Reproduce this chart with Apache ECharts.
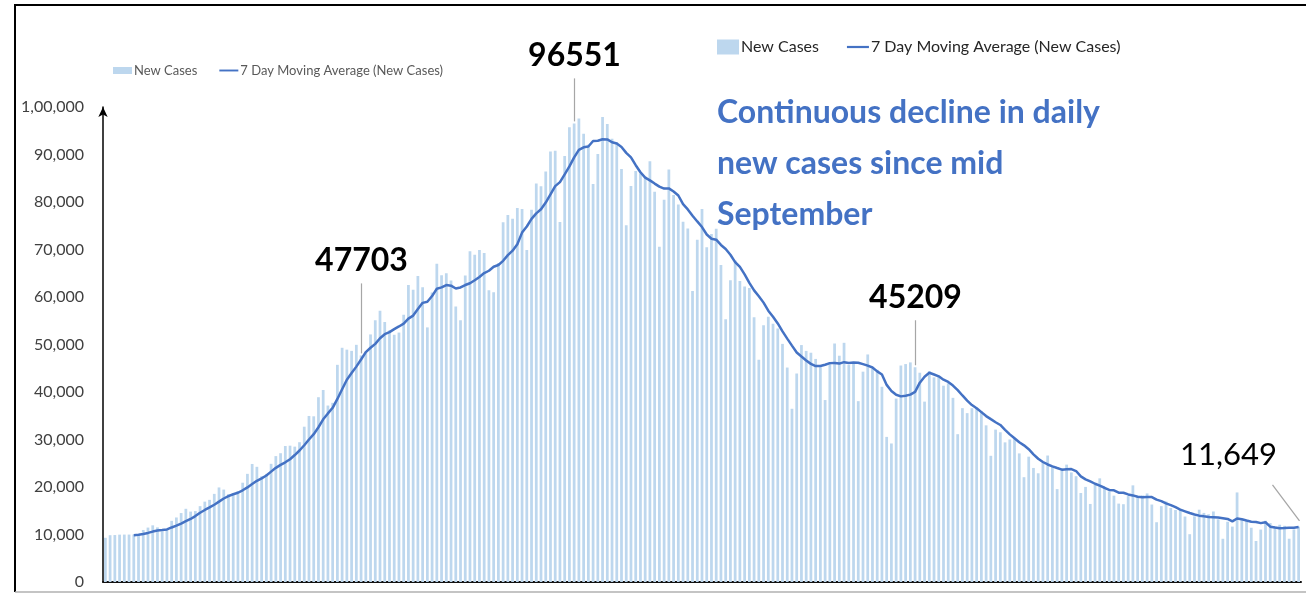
<!DOCTYPE html>
<html>
<head>
<meta charset="utf-8">
<script src="https://cdn.jsdelivr.net/npm/echarts@6/dist/echarts.min.js"></script>
<style>
  html, body { margin: 0; padding: 0; background: #fff; }
  #chart { width: 1306px; height: 594px; }
</style>
</head>
<body>
<div id="chart"></div>
<script>
// daily new cases, 04 Jun 2020 -> 11 Feb 2021
const firstDay = '2020-06-04'
const newCases = [
  9304, 9851, 9887, 9971, 9983, 9987, 9985, 9996, 10956, 11458, 11929, 11502, 10667, 10974, 12881, 13586, 14516, 15413, 14821, 14933, 15968, 16922, 17296, 18552, 19906, 19459, 18522,
  18653, 19148, 20903, 22771, 24850, 24248, 22252, 22752, 24879, 26506, 27114, 28637, 28701, 28498, 29429, 32695, 34956, 34884, 38902, 40425, 37148, 37724, 45720, 49310, 48916, 48661, 49931, 47703, 48513, 52123, 55079,
  57118, 54735, 52972, 52050, 52509, 56282, 62538, 61537, 64399, 62064, 53601, 60963, 66999, 64553, 65002, 63490, 57981, 55079, 64531, 69652, 68898, 69878, 69239, 61408, 60975, 67151, 75760, 77266, 76472, 78761, 78512,
  69921, 78357, 83883, 83341, 86432, 90632, 90802, 75809, 89706, 95735, 96551, 97570, 94372, 92071, 83809, 90123, 97894, 96424, 93337, 92605, 86961, 75083, 83347, 86508, 86052, 85362, 88600, 82170, 70589, 80472,
  86821, 81484, 79476, 75829, 74442, 61267, 72049, 78524, 70496, 73272, 74383, 66732, 55342, 63509, 67708, 63371, 62212, 61871, 55722, 46790, 54044, 55839, 54366, 53370, 50129, 45148, 36470, 43893, 49881, 48648, 48268,
  46963, 45231, 38310, 46253, 50209, 47638, 50357, 45674, 45903, 38073, 44281, 47905, 44878, 44684, 41100, 30548, 29163, 38617, 45576, 45882, 46232, 45209, 44059, 37975, 44376, 43082, 43174, 41322, 41810, 38772,
  31118, 36604, 35551, 36595, 36652, 36011, 32981, 26567, 32080, 31521, 29398, 30006, 30254, 27071, 22065, 26382, 24010, 22890, 25152, 26624, 24337, 19556, 23950, 24712, 23067, 22273, 18732, 20021, 16432, 20550, 21822,
  20035, 19079, 18177, 16504, 16375, 18088, 20346, 18139, 18222, 18645, 16311, 12584, 15968, 16946, 15590, 15158, 15144, 13788, 10064, 13823, 15223, 14545, 14256, 14849, 13203, 9102, 12689, 11666, 18855, 13083, 13052,
  11427, 8635, 11039, 12899, 12408, 11713, 12059, 11831, 9110, 11067, 11649
]
// 7 day moving average line
const movingAvg = [
  null, null, null, null, null, null,
  9853, 9951, 10109, 10334, 10613, 10830, 10928, 11069, 11481, 11857, 12294, 12791, 13265, 13875, 14588, 15166, 15696, 16272, 16914, 17577, 18089,
  18473, 18791, 19306, 19909, 20615, 21299, 21832, 22418, 23236, 24037, 24657, 25198, 25834, 26727, 27681, 28797, 30004, 31114, 32581, 34256, 35491, 36676, 38537, 40588, 42592, 43986, 45344, 46852, 48393, 49308, 50132,
  51304, 52172, 52606, 53227, 53798, 54392, 55458, 56089, 57470, 58768, 58990, 60198, 61729, 62017, 62512, 62382, 61798, 62010, 62519, 62898, 63519, 64216, 65037, 65526, 66369, 66743, 67616, 68811, 69753, 71113, 73557,
  74835, 76436, 77596, 78464, 79887, 81583, 83338, 84179, 85801, 87494, 89381, 90972, 91506, 91688, 92831, 92890, 93199, 93180, 92576, 92323, 91593, 90347, 89379, 87752, 86270, 85131, 84559, 83875, 83233, 82822,
  82867, 82214, 81373, 79549, 78445, 77113, 75910, 74724, 73155, 72268, 72062, 70960, 70114, 68894, 67349, 66331, 64751, 62964, 61391, 60169, 58817, 57121, 55835, 54429, 52751, 51241, 49767, 48316, 47465, 46648, 45920,
  45467, 45479, 45742, 46079, 46126, 45982, 46280, 46096, 46192, 46158, 45876, 45547, 45153, 44343, 43689, 41496, 40223, 39414, 39081, 39224, 39445, 40032, 41963, 43221, 44044, 43688, 43301, 42600, 42114, 41359,
  40379, 39269, 38193, 37253, 36586, 35758, 34930, 34280, 33634, 33058, 32030, 31081, 30258, 29414, 28771, 27957, 26884, 25954, 25261, 24742, 24351, 23993, 23646, 23746, 23771, 23360, 22232, 21616, 21170, 20684, 20271,
  19838, 19382, 19302, 18800, 18792, 18440, 18229, 17958, 17836, 17903, 17875, 17334, 17031, 16545, 16181, 15743, 15243, 14883, 14523, 14216, 13970, 13821, 13692, 13650, 13566, 13429, 13267, 12759, 13374, 13207, 12950,
  12696, 12630, 12394, 12570, 11649, 11453, 11311, 11369, 11437, 11441, 11600
]
const yTickLabels = ['0', '10,000', '20,000', '30,000', '40,000', '50,000', '60,000', '70,000', '80,000', '90,000', '1,00,000']
const seriesNames = ['New Cases', '7 Day Moving Average (New Cases)']
const noteText = 'Continuous decline in daily\nnew cases since mid\nSeptember'

// callouts: which point they hang on and what they say
const callouts = [
  { idx: 54, from: 'bar', text: '47703', lead: 70 },
  { idx: 99, from: 'bar', text: '96551', lead: 43 },
  { idx: 171, from: 'bar', text: '45209', lead: 45 },
  { idx: 252, from: 'line', text: '11,649', lead: 0 }
]

const FONT = 'Lato, "Open Sans", sans-serif'
const LINE_ICON = 'path://M0,0H20V2H0Z'

const days = []
const d0 = new Date(firstDay + 'T00:00:00Z')
for (let i = 0; i < newCases.length; i++) {
  const d = new Date(d0.getTime() + i * 86400000)
  days.push(d.toISOString().slice(0, 10))
}

const legendData = [
  { name: seriesNames[0], icon: 'rect' },
  { name: seriesNames[1], icon: LINE_ICON }
]

const chart = echarts.init(document.getElementById('chart'), null, { renderer: 'canvas' })

const option = {
  animation: false,
  backgroundColor: '#fff',
  textStyle: { fontFamily: FONT },
  title: {
    text: noteText,
    left: 717,
    top: 87,
    padding: 0,
    textStyle: {
      color: '#4472c4',
      fontSize: 32,
      fontWeight: 'bold',
      lineHeight: 51,
      fontFamily: FONT
    }
  },
  legend: [
    {
      data: legendData,
      left: 113,
      top: 64,
      padding: 0,
      itemWidth: 19,
      itemHeight: 7,
      itemGap: 22,
      symbolKeepAspect: true,
      selectedMode: false,
      textStyle: { fontSize: 13, color: '#595959', fontFamily: FONT, padding: [0, 0, 0, -3] }
    },
    {
      data: legendData,
      left: 717,
      top: 39,
      padding: 0,
      itemWidth: 22,
      itemHeight: 15,
      itemGap: 28,
      symbolKeepAspect: true,
      selectedMode: false,
      textStyle: { fontSize: 16, color: '#262626', fontFamily: FONT, padding: [0, 0, 0, -3] }
    }
  ],
  grid: { left: 103, right: 5, top: 107, bottom: 12, containLabel: false },
  xAxis: {
    type: 'category',
    data: days,
    boundaryGap: true,
    axisLine: { lineStyle: { color: '#111', width: 2 } },
    axisTick: { show: false },
    axisLabel: { show: false }
  },
  yAxis: {
    type: 'value',
    min: 0,
    max: 100000,
    interval: 10000,
    axisLine: {
      show: true,
      symbol: ['none', 'arrow'],
      symbolSize: [7, 10],
      lineStyle: { color: '#000', width: 1.5 }
    },
    axisTick: { show: false },
    splitLine: { show: false },
    axisLabel: {
      margin: 19,
      fontSize: 16,
      color: '#404040',
      fontFamily: FONT,
      formatter: v => yTickLabels[Math.round(v / 10000)]
    }
  },
  series: [
    {
      name: seriesNames[0],
      type: 'bar',
      data: newCases,
      barCategoryGap: '42%',
      itemStyle: { color: '#bdd7ee' }
    },
    {
      name: seriesNames[1],
      type: 'line',
      data: movingAvg,
      symbol: 'none',
      connectNulls: false,
      lineStyle: { color: '#4472c4', width: 2.5 },
      itemStyle: { color: '#4472c4' },
      z: 3
    }
  ]
}

chart.setOption(option)

// frame round the picture + callouts placed from data coordinates
const extras = [
  {
    type: 'polyline',
    shape: { points: [[1306, 5], [15, 5], [15, 592]] },
    style: { stroke: '#000', lineWidth: 2, fill: null },
    silent: true
  },
  {
    type: 'line',
    shape: { x1: 15, y1: 592, x2: 1306, y2: 592 },
    style: { stroke: '#b0b0b0', lineWidth: 1.5 },
    silent: true
  }
]

callouts.forEach(c => {
  const val = c.from === 'bar' ? newCases[c.idx] : movingAvg[c.idx]
  const p = chart.convertToPixel({ gridIndex: 0 }, [c.idx, val])
  const x = Math.round(p[0]) + 0.5
  if (c.from === 'bar') {
    const top = p[1] - 2 - c.lead
    extras.push({
      type: 'line',
      shape: { x1: x, y1: p[1] - 2, x2: x, y2: top },
      style: { stroke: '#a6a6a6', lineWidth: 1.2 },
      silent: true
    })
    extras.push({
      type: 'text',
      style: {
        text: c.text, x: x, y: top - 23,
        align: 'center', verticalAlign: 'middle',
        textAlign: 'center', textVerticalAlign: 'middle',
        fontSize: 32, fontWeight: 'bold', fontFamily: FONT, fill: '#000'
      },
      silent: true
    })
  } else {
    extras.push({
      type: 'line',
      shape: { x1: x, y1: p[1] - 6, x2: x - 27, y2: p[1] - 42 },
      style: { stroke: '#a6a6a6', lineWidth: 1.2 },
      silent: true
    })
    extras.push({
      type: 'text',
      style: {
        text: c.text, x: x - 71, y: p[1] - 72,
        align: 'center', verticalAlign: 'middle',
        textAlign: 'center', textVerticalAlign: 'middle',
        fontSize: 31, fontWeight: 'normal', fontFamily: FONT, fill: '#000'
      },
      silent: true
    })
  }
})

chart.setOption({ graphic: { elements: extras } })
</script>
</body>
</html>
